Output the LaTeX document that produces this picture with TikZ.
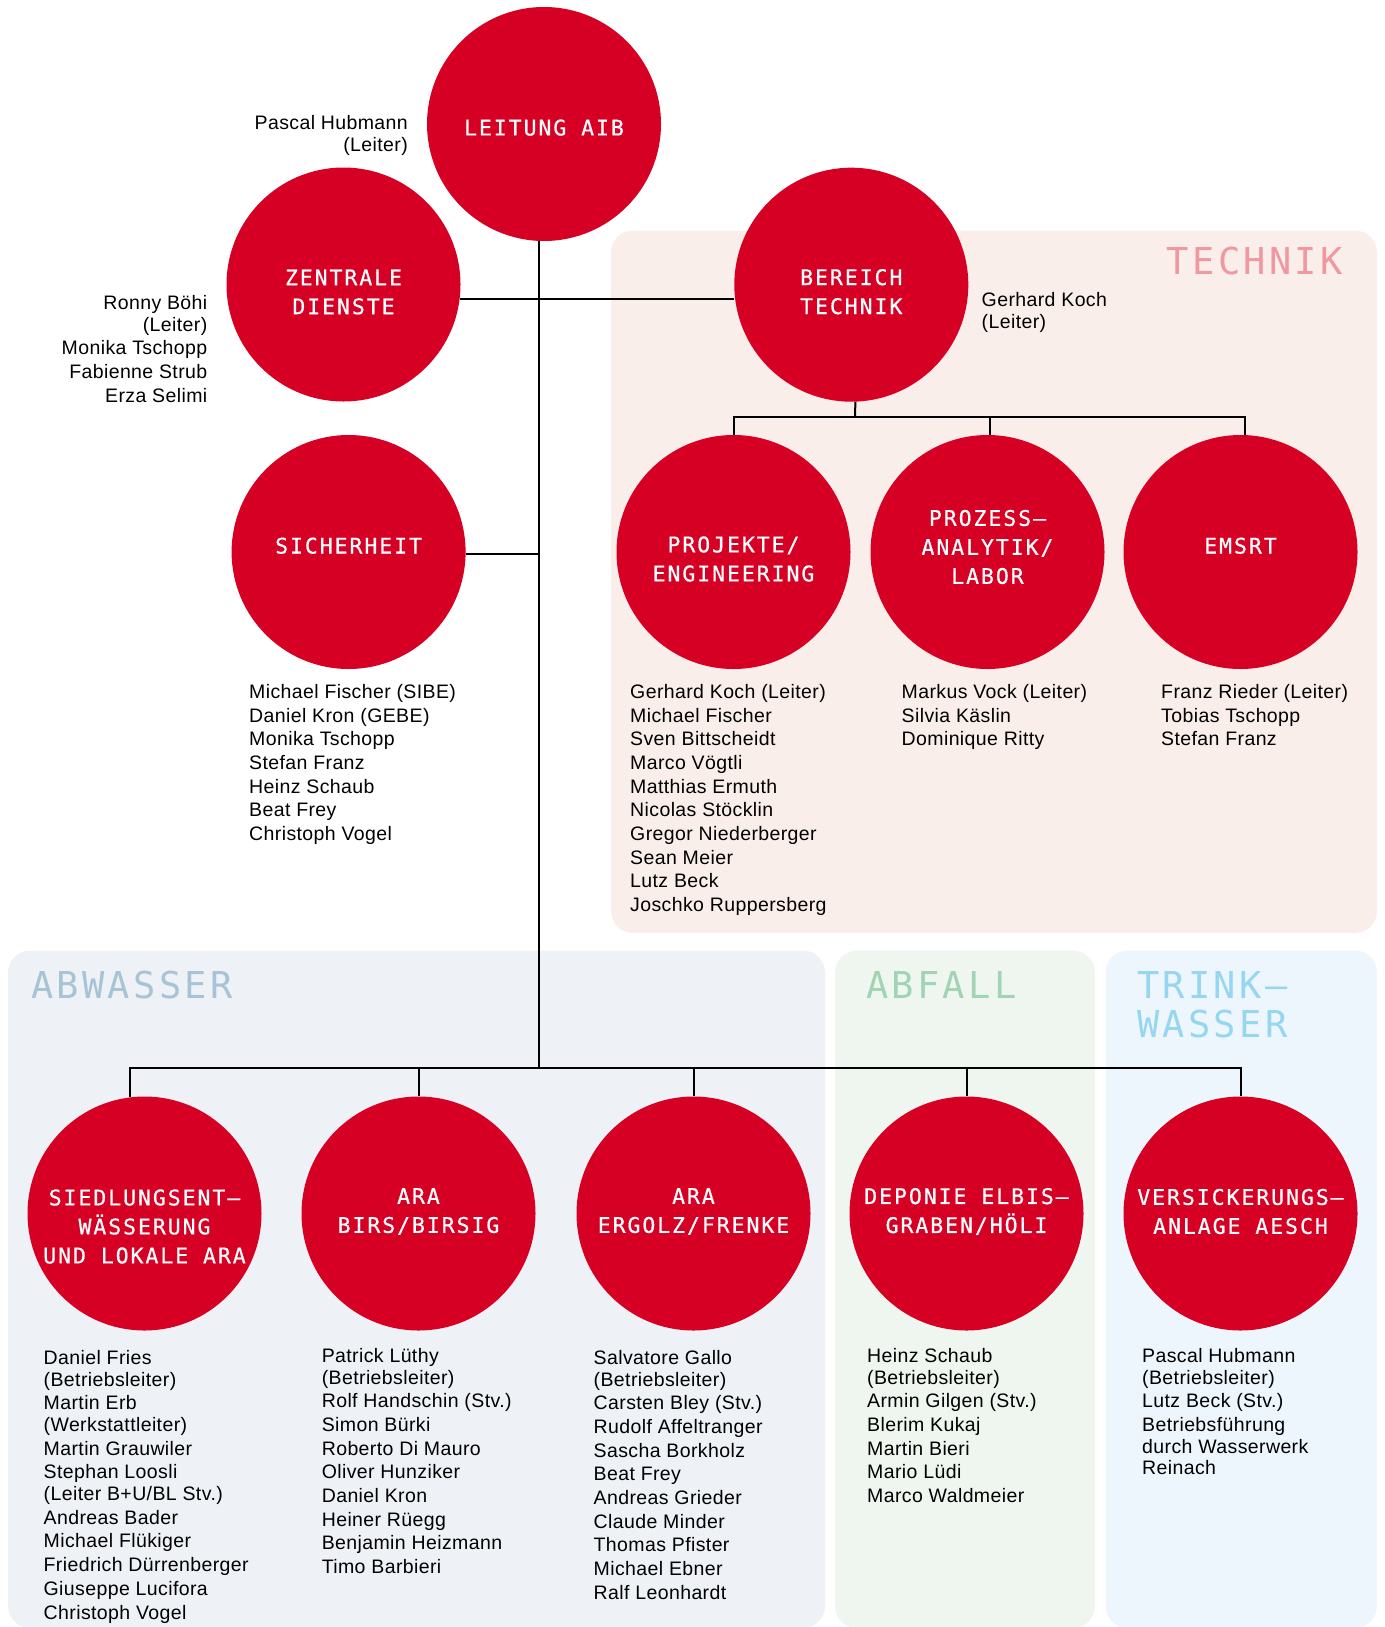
\documentclass[tikz,border=0pt]{standalone}
\usepackage{fontspec}
\usetikzlibrary{positioning}
\newfontfamily\staffface{Liberation Sans}[LetterSpace=2]
\newfontfamily\monoface{DejaVu Sans Mono}[LetterSpace=9]
\newfontfamily\unitface{DejaVu Sans Mono}[LetterSpace=9,FakeBold=0.6]
\definecolor{aibred}{RGB}{214,0,36}
\definecolor{techbg}{RGB}{250,238,235}
\definecolor{techfg}{RGB}{240,151,160}
\definecolor{abwbg}{RGB}{238,241,246}
\definecolor{abwfg}{RGB}{166,196,214}
\definecolor{abfbg}{RGB}{239,246,240}
\definecolor{abffg}{RGB}{161,212,181}
\definecolor{twbg}{RGB}{238,246,253}
\definecolor{twfg}{RGB}{151,214,240}

\begin{document}
\begin{tikzpicture}[x=1pt,y=-1pt,on grid,
        unit/.style={circle,fill=aibred,minimum size=234pt,inner sep=0pt},
        unitname/.style={text=white,align=center,inner sep=0pt,font=\unitface\fontsize{21.5}{29}\selectfont},
        staff/.style={align=left,anchor=north west,inner sep=0pt,font=\staffface\fontsize{19.5}{23.7}\selectfont},
        area/.style={rounded corners=22pt},
        areaname/.style={anchor=north west,align=left,inner sep=0pt,font=\monoface\fontsize{37}{39.5}\selectfont},
        link/.style={line width=2pt}]
    \useasboundingbox (0,0) rectangle (1384,1627);

        \fill[area,techbg] (611,230.5) rectangle (1377,933);
        \fill[area,abwbg] (8,950.5) rectangle (825,1628);
        \fill[area,abfbg] (835,950.5) rectangle (1095,1628);
        \fill[area,twbg] (1105.5,950.5) rectangle (1377,1628);

        \node[areaname,text=techfg,anchor=north east] (technik) at (1343,247) {TECHNIK};
        \node[areaname,text=abwfg] (abwasser) at (31,971) {ABWASSER};
        \node[areaname,text=abffg] (abfall) at (866,971) {ABFALL};
        \node[areaname,text=twfg] (trinkwasser) at (1137,971) {TRINK–\\WASSER};

        \node[unit] (leitung) at (544,124) {};
        \node[unit] (zentrale) at (343.5,284.5) {};
        \node[unit] (bereich) at (851.3,284.7) {};
        \node[unit] (sicherheit) at (348.6,552) {};
        \node[unit] (projekte) at (733.5,552) {};
        \node[unit] (prozess) [right=254pt of projekte] {};
        \node[unit] (emsrt) [right=253pt of prozess] {};
        \node[unit] (siedlung) at (144.5,1213.5) {};
        \node[unit] (birs) [right=274pt of siedlung] {};
        \node[unit] (ergolz) [right=275pt of birs] {};
        \node[unit] (deponie) [right=273pt of ergolz] {};
        \node[unit] (versick) [right=274pt of deponie] {};

        \node[unitname] (leitung-name) at ([yshift=-3.6pt]leitung) {LEITUNG AIB};
        \node[unitname] (zentrale-name) at ([yshift=-7.5pt]zentrale) {ZENTRALE\\DIENSTE};
        \node[unitname] (bereich-name) at ([yshift=-7pt]bereich) {BEREICH\\TECHNIK};
        \node[unitname] (sicherheit-name) at ([yshift=6.3pt]sicherheit) {SICHERHEIT};
        \node[unitname] (projekte-name) at ([yshift=-7pt]projekte) {PROJEKTE/\\ENGINEERING};
        \node[unitname] (prozess-name) at ([yshift=5pt]prozess) {PROZESS–\\ANALYTIK/\\LABOR};
        \node[unitname] (emsrt-name) at ([yshift=6.3pt]emsrt) {EMSRT};
        \node[unitname] (siedlung-name) at ([yshift=-13pt]siedlung) {SIEDLUNGSENT–\\WÄSSERUNG\\UND LOKALE ARA};
        \node[unitname] (birs-name) at ([yshift=2pt]birs) {ARA\\BIRS/BIRSIG};
        \node[unitname] (ergolz-name) at ([yshift=2pt]ergolz) {ARA\\ERGOLZ/FRENKE};
        \node[unitname] (deponie-name) at ([yshift=2pt]deponie) {DEPONIE ELBIS–\\GRABEN/HÖLI};
        \node[unitname] (versick-name) at ([yshift=2pt]versick) {VERSICKERUNGS–\\ANLAGE AESCH};

        \coordinate (hub) at (538.5,1067.5);
        \coordinate (tbus) at (855,417);
        \draw[link] (leitung.south -| hub) -- (hub);
        \draw[link] (zentrale.-7) -- (zentrale.-7 -| bereich.west);
        \draw[link] (sicherheit.-1.5) -- (sicherheit.-1.5 -| hub);
        \draw[link] (bereich.-88) -- (tbus);
        \draw[link] (projekte.north) |- (tbus) -| (emsrt.88);
        \draw[link] (prozess.89) -- (prozess.89 |- tbus);
        \draw[link] (siedlung.97) |- (hub) -| (versick.north);
        \draw[link] (birs.north) -- (birs.north |- hub);
        \draw[link] (ergolz.north) -- (ergolz.north |- hub);
        \draw[link] (deponie.north) -- (deponie.north |- hub);

        \node[staff,align=right,anchor=north east] (leitung-staff) at (408,115.5) {Pascal Hubmann\\[-2pt](Leiter)};
        \node[staff,align=right,anchor=north east] (zentrale-staff) at (207.5,295) {Ronny Böhi\\[-2pt](Leiter)\\Monika Tschopp\\Fabienne Strub\\Erza Selimi};
        \node[staff] (bereich-staff) at (981.5,292) {Gerhard Koch\\[-2pt](Leiter)};
        \node[staff] (sicherheit-staff) at (249,684) {Michael Fischer (SIBE)\\Daniel Kron (GEBE)\\Monika Tschopp\\Stefan Franz\\Heinz Schaub\\Beat Frey\\Christoph Vogel};
        \node[staff] (projekte-staff) at (630,684) {Gerhard Koch (Leiter)\\Michael Fischer\\Sven Bittscheidt\\Marco Vögtli\\Matthias Ermuth\\Nicolas Stöcklin\\Gregor Niederberger\\Sean Meier\\Lutz Beck\\Joschko Ruppersberg};
        \node[staff] (prozess-staff) at (901.5,684) {Markus Vock (Leiter)\\Silvia Käslin\\Dominique Ritty};
        \node[staff] (emsrt-staff) at (1161,684) {Franz Rieder (Leiter)\\Tobias Tschopp\\Stefan Franz};
        \node[staff] (siedlung-staff) at (43.5,1350) {Daniel Fries\\[-2pt](Betriebsleiter)\\Martin Erb\\[-2pt](Werkstattleiter)\\Martin Grauwiler\\Stephan Loosli\\[-2pt](Leiter B+U/BL Stv.)\\Andreas Bader\\Michael Flükiger\\Friedrich Dürrenberger\\Giuseppe Lucifora\\Christoph Vogel};
        \node[staff] (birs-staff) at (321.6,1348) {Patrick Lüthy\\[-2pt](Betriebsleiter)\\Rolf Handschin (Stv.)\\Simon Bürki\\Roberto Di Mauro\\Oliver Hunziker\\Daniel Kron\\Heiner Rüegg\\Benjamin Heizmann\\Timo Barbieri};
        \node[staff] (ergolz-staff) at (593.5,1350) {Salvatore Gallo\\[-2pt](Betriebsleiter)\\Carsten Bley (Stv.)\\Rudolf Affeltranger\\Sascha Borkholz\\Beat Frey\\Andreas Grieder\\Claude Minder\\Thomas Pfister\\Michael Ebner\\Ralf Leonhardt};
        \node[staff] (deponie-staff) at (867,1348) {Heinz Schaub\\[-2pt](Betriebsleiter)\\Armin Gilgen (Stv.)\\Blerim Kukaj\\Martin Bieri\\Mario Lüdi\\Marco Waldmeier};
        \node[staff] (versick-staff) at (1142,1348) {Pascal Hubmann\\[-2pt](Betriebsleiter)\\Lutz Beck (Stv.)\\Betriebsführung\\[-2pt]durch Wasserwerk\\[-2pt]Reinach};

    \end{tikzpicture}
\end{document}
